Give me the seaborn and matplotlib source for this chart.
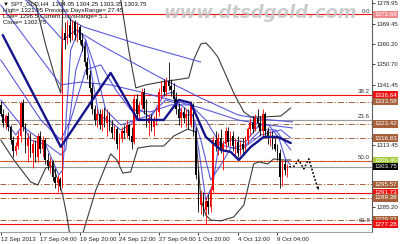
import numpy as np
import pandas as pd
import matplotlib
matplotlib.use("Agg")
import matplotlib.pyplot as plt
import seaborn as sns
from matplotlib.transforms import blended_transform_factory

# ---------------- data ----------------
opens = [1332, 1328, 1324, 1327, 1322, 1316, 1311, 1313, 1318, 1333,
         1322, 1313, 1317, 1310, 1314, 1308, 1318, 1312, 1316, 1307,
         1304, 1306, 1299, 1296, 1298, 1295, 1365, 1362, 1369, 1363,
         1370, 1364, 1368, 1362, 1359, 1352, 1346, 1340, 1330, 1325,
         1328, 1323, 1328, 1324, 1327, 1322, 1319, 1321, 1314, 1317,
         1320, 1319, 1323, 1318, 1315, 1335, 1328, 1332, 1338, 1330,
         1324, 1326, 1322, 1325, 1329, 1338, 1341, 1338, 1343, 1341,
         1339, 1335, 1330, 1326, 1329, 1326, 1328, 1323, 1332, 1320,
         1300, 1286, 1290, 1284, 1288, 1285, 1293, 1316, 1313, 1317,
         1312, 1314, 1320, 1315, 1318, 1313, 1315, 1310, 1314, 1312,
         1316, 1321, 1324, 1321, 1326, 1324, 1320, 1328, 1320, 1317,
         1318, 1314, 1312, 1310, 1299, 1305, 1302, 1304.05]
highs = [1334, 1330, 1328, 1329, 1323, 1318, 1315, 1320, 1334, 1335,
         1324, 1319, 1319, 1316, 1316, 1319, 1320, 1318, 1317, 1310,
         1308, 1307, 1303, 1300, 1299, 1368, 1370, 1371, 1372, 1371,
         1371, 1370, 1369, 1365, 1361, 1354, 1348, 1342, 1332, 1330,
         1330, 1330, 1331, 1330, 1329, 1325, 1323, 1322, 1319, 1322,
         1323, 1325, 1324, 1322, 1337, 1337, 1334, 1340, 1340, 1335,
         1328, 1328, 1327, 1331, 1340, 1343, 1344, 1345, 1352, 1344,
         1342, 1338, 1333, 1331, 1331, 1330, 1330, 1334, 1333, 1322,
         1302, 1293, 1292, 1290, 1291, 1295, 1318, 1320, 1319, 1321,
         1316, 1322, 1322, 1320, 1320, 1317, 1318, 1316, 1317, 1318,
         1322, 1326, 1327, 1328, 1330, 1327, 1330, 1329, 1322, 1320,
         1320, 1317, 1314, 1312, 1307, 1307, 1305, 1304.25]
lows = [1327, 1322, 1321, 1320, 1314, 1308, 1309, 1312, 1315, 1320,
        1310, 1306, 1308, 1303, 1306, 1306, 1310, 1308, 1305, 1302,
        1301, 1297, 1294, 1292, 1293, 1294, 1358, 1360, 1361, 1362,
        1362, 1361, 1360, 1357, 1350, 1344, 1338, 1328, 1323, 1322,
        1321, 1320, 1322, 1318, 1320, 1317, 1316, 1312, 1305, 1315,
        1317, 1317, 1316, 1312, 1314, 1326, 1325, 1330, 1328, 1322,
        1318, 1320, 1318, 1323, 1327, 1335, 1336, 1336, 1339, 1336,
        1333, 1328, 1323, 1322, 1324, 1322, 1321, 1322, 1318, 1298,
        1283, 1282, 1281, 1277.5, 1282, 1283, 1292, 1311, 1309, 1310,
        1302, 1312, 1313, 1313, 1311, 1309, 1308, 1309, 1309, 1310,
        1314, 1318, 1319, 1320, 1322, 1318, 1318, 1318, 1314, 1313,
        1312, 1311, 1307, 1294, 1295, 1300, 1299, 1303.35]
closes = [1328, 1324, 1327, 1322, 1316, 1311, 1313, 1318, 1333, 1322,
          1313, 1317, 1310, 1314, 1308, 1318, 1312, 1316, 1307, 1304,
          1306, 1299, 1296, 1298, 1295, 1365, 1362, 1369, 1363, 1370,
          1364, 1368, 1362, 1359, 1352, 1346, 1340, 1330, 1325, 1328,
          1323, 1328, 1324, 1327, 1322, 1319, 1321, 1314, 1317, 1320,
          1319, 1323, 1318, 1315, 1335, 1328, 1332, 1338, 1330, 1324,
          1326, 1322, 1325, 1329, 1338, 1341, 1338, 1343, 1341, 1339,
          1335, 1330, 1326, 1329, 1326, 1328, 1323, 1332, 1320, 1300,
          1286, 1290, 1284, 1288, 1285, 1293, 1316, 1313, 1317, 1312,
          1314, 1320, 1315, 1318, 1313, 1315, 1310, 1314, 1312, 1316,
          1321, 1324, 1321, 1326, 1324, 1320, 1328, 1320, 1317, 1318,
          1314, 1312, 1310, 1299, 1305, 1302, 1304, 1303.75]

# Bollinger bands (bar index, price)
bb_upper_bar = [0, 8.1, 14.2, 18.2, 22.3, 24.3, 25.5, 36.4, 44.5, 48.6, 51.8, 54.7,
                58.7, 64.8, 70.9, 76.1, 78.1, 81, 83, 85, 87.9, 91.1, 94.3, 98.4,
                101.2, 107.3, 113.4, 117.4]
bb_upper_px = [1387.2, 1382.6, 1378.0, 1359.6, 1343.6, 1337.6, 1398.7, 1398.7, 1389.5,
               1380.3, 1357.3, 1339.9, 1341.3, 1342.6, 1343.6, 1344.5, 1352.8, 1360.1,
               1360.6, 1358.3, 1354.1, 1345.9, 1337.6, 1328.9, 1326.6, 1326.6, 1327.0,
               1330.7]
bb_lower_bar = [0, 5.3, 12.1, 15, 18.2, 21, 23.5, 25.1, 26.7, 28.3, 32.4, 38.5, 44.5,
                47, 49.4, 52.6, 55.5, 60.7, 66, 70, 75.7, 78.9, 81, 83, 85, 89.1, 94.3,
                98.4, 102.4, 104.5, 108.1, 110.5, 114.2, 117.4]
bb_lower_px = [1316.0, 1306.8, 1296.7, 1295.3, 1303.1, 1304.0, 1296.7, 1290.7, 1281.5,
               1270.0, 1270.0, 1293.0, 1309.6, 1306.8, 1300.8, 1301.3, 1312.3, 1313.2,
               1313.2, 1317.8, 1321.0, 1319.7, 1288.9, 1281.5, 1279.2, 1278.8, 1280.6,
               1286.1, 1305.0, 1305.9, 1305.0, 1307.3, 1306.8, 1306.8]

# thick navy line
navy_bar = [0.8, 24.3, 44.5, 55.5, 60.7, 66, 72.1, 76.9, 83, 89.1, 93.1, 96.4, 101.2,
            106.5, 112.1, 117.4]
navy_px = [1364.2, 1312.8, 1346.8, 1325.2, 1325.2, 1325.2, 1334.4, 1333.0, 1317.4,
           1311.4, 1310.5, 1306.8, 1312.8, 1317.4, 1317.4, 1314.6]

# thin blue averages
fast_bar = [0, 6.1, 8.9, 12.1, 18.2, 23.5, 25.1, 26.7, 28.3, 31.6, 34.4, 37.2, 39.7,
            44.5, 48.6, 52.6, 56.7, 60.7, 66, 69.6, 73.7, 77.7, 80.2, 83, 85.8, 88.3,
            93.1, 99.2, 104.5, 108.5, 112.6, 115.4, 117.4]
fast_px = [1327.5, 1318.3, 1322.9, 1316.0, 1313.7, 1299.9, 1302.2, 1329.8, 1357.3,
           1366.5, 1361.9, 1343.6, 1327.5, 1324.3, 1320.6, 1322.9, 1329.8, 1326.1,
           1336.7, 1338.0, 1327.5, 1327.5, 1311.4, 1288.4, 1295.3, 1313.7, 1316.0,
           1315.1, 1322.9, 1322.9, 1316.9, 1306.8, 1304.5]
mid_bar = [0, 8.1, 16.2, 24.3, 26.3, 30.4, 34.4, 38.5, 42.5, 48.6, 54.7, 60.7, 66.8,
           72.9, 77.7, 81, 85, 89.1, 93.1, 99.2, 105.3, 111.3, 117.4]
mid_px = [1334.4, 1322.9, 1316.0, 1309.1, 1311.4, 1348.2, 1361.9, 1348.2, 1329.8,
          1322.9, 1325.2, 1327.5, 1334.4, 1332.1, 1327.5, 1316.0, 1297.6, 1304.5,
          1312.3, 1313.7, 1320.6, 1320.6, 1311.4]
slow_bar = [0, 8.1, 16.2, 24.3, 28.3, 34.4, 40.5, 46.6, 52.6, 60.7, 68.8, 76.9, 83,
            89.1, 97.2, 105.3, 113.4, 117.4]
slow_px = [1352.8, 1339.0, 1325.2, 1316.0, 1325.2, 1348.2, 1350.5, 1339.0, 1329.8,
           1328.9, 1332.1, 1332.1, 1325.2, 1313.7, 1311.4, 1318.3, 1320.6, 1316.9]
s1_bar = [0, 12.1, 24.3, 32.4, 44.5, 56.7, 68.8, 81, 96, 105.3, 118.2]
s1_px = [1378.0, 1359.6, 1341.3, 1342.6, 1341.3, 1338.0, 1334.4, 1330.7, 1325.2,
         1323.3, 1321.5]
s2_bar = [0, 14.2, 25.1, 30.4, 40.5, 51.4, 64.8, 81, 96, 105.3, 118.2]
s2_px = [1391.8, 1375.7, 1361.9, 1366.5, 1359.6, 1352.8, 1344.5, 1335.3, 1327.5,
         1325.6, 1324.3]
s3_bar = [0, 20.2, 28.3, 33.6, 56.7, 81]
s3_px = [1407.9, 1384.9, 1371.1, 1367.9, 1359.6, 1351.8]

# projected path (dotted arrow)
proj_bar = [118.5, 120.6, 122.7, 124.7, 128.7]
proj_px = [1303.6, 1306.8, 1302.7, 1307.3, 1293.0]

# horizontal levels
red_levels = [1373.66, 1336.64, 1306.40, 1291.73, 1277.28]
brown_levels = [1333.58, 1323.42, 1316.83, 1295.57, 1289.38, 1279.22]
gray_levels = [1325.30, 1303.75]
fib_labels = ["0.0", "38.2", "23.6", "50.0", "61.8"]
fib_prices = [1373.66, 1336.64, 1325.30, 1306.40, 1277.28]

price_ticks = [1378.95, 1369.45, 1360.20, 1350.70, 1341.45, 1313.45, 1285.20]
box_prices = [1373.66, 1336.64, 1333.58, 1323.42, 1316.83, 1306.40, 1303.75,
              1295.57, 1291.73, 1289.38, 1279.22, 1277.28]
box_kinds = ["pink", "red", "brown", "brown", "brown", "green", "black",
             "brown", "red", "brown", "brown", "red"]

date_ticks = [0, 16, 32, 48, 64, 80, 96, 112]
date_labels = ["12 Sep 2013", "17 Sep 04:00", "19 Sep 20:00", "24 Sep 12:00",
               "27 Sep 04:00", "1 Oct 20:00", "4 Oct 12:00", "9 Oct 04:00"]

header = ["\u25BC SPT_GLD,H4  1304.05 1304.25 1303.35 1303.75",
          "High= 1321.95 Previous DaysRange= 27.45",
          "Low= 1296.5 Current DaysRange= 5.1",
          "Close= 1302.75"]

# ---------------- drawing ----------------
sns.set_style("white")
plt.rcParams["font.family"] = ["Liberation Sans", "DejaVu Sans"]

fig = plt.figure(figsize=(4, 2.44), dpi=100)
ax = fig.add_axes([0, 12 / 244, 372 / 400, 232 / 244])
ax.set_facecolor("white")

RED = "#f01010"
BROWN = "#a8643c"
box_colors = {"pink": "#f08a8a", "red": "#ee1111", "brown": "#a5603a",
              "green": "#a4cc3a", "black": "#000000"}

dashdot = (0, (6, 2, 1.2, 2))
for p in red_levels:
    ax.axhline(p, color=RED, lw=0.8, zorder=1.2)
for p in brown_levels:
    ax.axhline(p, color=BROWN, lw=0.7, ls=dashdot, zorder=1.2)
for p in gray_levels:
    ax.axhline(p, color="#9a9a9a", lw=0.8, zorder=1.1)
ax.axhline(1306.40, color="#a4cc3a", lw=0.7, ls=(0, (1, 1.5)), zorder=1.25)

# indicator lines through seaborn
def line(xs, ys, color, lw, alpha=1.0, z=2):
    df = pd.DataFrame({"bar": xs, "price": ys})
    sns.lineplot(data=df, x="bar", y="price", ax=ax, color=color, lw=lw,
                 alpha=alpha, estimator=None, sort=False, legend=False, zorder=z)

line(bb_upper_bar, bb_upper_px, "#3c3c3c", 0.8)
line(bb_lower_bar, bb_lower_px, "#3c3c3c", 0.8)
for xs, ys in [(s1_bar, s1_px), (s2_bar, s2_px), (s3_bar, s3_px),
               (slow_bar, slow_px), (mid_bar, mid_px), (fast_bar, fast_px)]:
    line(xs, ys, "#4a4ad8", 0.8, 0.9, 2.2)

# candlesticks
o = np.array(opens, float); h = np.array(highs, float)
l = np.array(lows, float); c = np.array(closes, float)
xb = np.arange(len(c))
cols = np.where(c >= o, "#ff0000", "#000000")
ax.vlines(xb, l, h, colors=cols, lw=0.6, zorder=3)
body = np.maximum(np.abs(c - o), 0.4)
ax.bar(xb, body, bottom=np.minimum(o, c), width=0.62, color=cols, lw=0, zorder=3)

line(navy_bar, navy_px, "#14148c", 1.7, 1.0, 3.5)

# projected path
ax.plot(proj_bar[:-1] + [proj_bar[-1] - 0.6], proj_px[:-1] + [proj_px[-1] + 1.6],
        color="black", lw=1.1, ls=(0, (1.2, 1.2)), zorder=4)
ax.annotate("", xy=(proj_bar[-1], proj_px[-1]),
            xytext=(proj_bar[-2] + 2.6, proj_px[-2] - 9.5),
            arrowprops=dict(arrowstyle="-|>", color="black", lw=0.0,
                            mutation_scale=6, shrinkA=0, shrinkB=0), zorder=4)

ax.set_xlim(-0.3, 150.3)
ax.set_ylim(1273.7, 1380.3)

# axes styling
for s in ["top", "left"]:
    ax.spines[s].set_visible(False)
ax.spines["right"].set_color("#606060")
ax.spines["right"].set_linewidth(0.8)
ax.spines["bottom"].set_color("#a0a0a0")
ax.spines["bottom"].set_linewidth(0.8)

ax.set_xticks(date_ticks)
ax.set_xticklabels(date_labels)
ax.tick_params(axis="x", length=2.5, width=0.6, pad=0.8, labelsize=4.4,
               colors="#222222", direction="out", bottom=True)
for t in ax.get_xticklabels():
    t.set_ha("left")

ax.yaxis.tick_right()
ax.set_yticks(price_ticks)
ax.set_yticklabels([f"{p:.2f}" for p in price_ticks])
ax.tick_params(axis="y", length=2, width=0.6, pad=1.0, labelsize=4.3,
               colors="#222222", right=True)
ax.set_xlabel("")
ax.set_ylabel("")

tr = blended_transform_factory(ax.transAxes, ax.transData)
for p, k in zip(box_prices, box_kinds):
    ax.text(1.006, p, f"{p:.2f}", transform=tr, fontsize=4.5, color="white",
            va="center", ha="left", clip_on=False, zorder=10,
            bbox=dict(boxstyle="square,pad=0.2", fc=box_colors[k], ec="none"))

for lab, p in zip(fib_labels, fib_prices):
    ax.text(0.995, p + 0.4, lab, transform=tr, fontsize=4.4, color="#333333",
            ha="right", va="bottom", zorder=6)

ax.text(0.008, 0.995, "\n".join(header), transform=ax.transAxes, fontsize=4.4,
        color="#111111", ha="left", va="top", linespacing=1.35, zorder=8)

fig.text(163 / 400, 1 - 13 / 244, "www.dtsdgold.com", fontsize=13.0,
         style="italic", weight="bold", color="#c4c4c4", alpha=0.85,
         family="DejaVu Sans", ha="left", va="center", zorder=20)

fig.savefig("out.png", dpi=100, facecolor="white")
